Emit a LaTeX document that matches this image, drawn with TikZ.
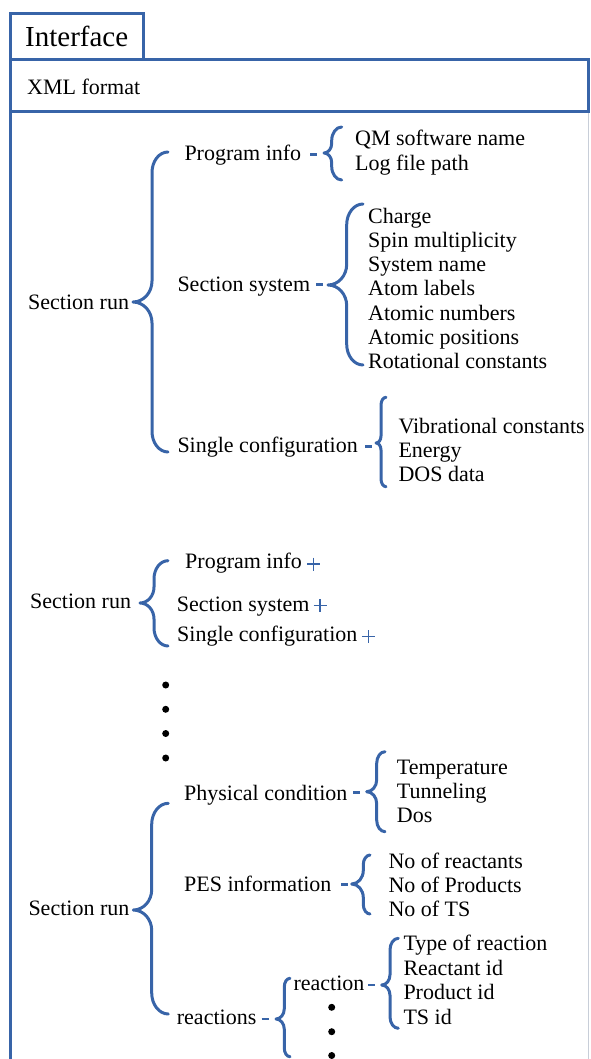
\documentclass[tikz,border=0pt]{standalone}
\usepackage{fontspec}
\setmainfont{Liberation Serif}
\definecolor{ablue}{RGB}{56,100,168}
\definecolor{agray}{RGB}{200,206,216}
\newcommand{\curlyb}[6]{%
 \pgfmathsetmacro{\dA}{#4-#3}%
 \pgfmathsetmacro{\dB}{#3-#1}%
 \pgfmathsetmacro{\rA}{1.15*\dA+2}%
 \pgfmathsetmacro{\rB}{1.0*\dB+2}%
 \draw[bracestyle] (#4,#5) .. controls ({#4-0.552*\dA},#5) and (#3,{#5+0.448*\rA}) .. (#3,{#5+\rA})
   -- (#3,{#2-\rB}) .. controls (#3,{#2-0.448*\rB}) and ({#1+0.552*\dB},#2) .. (#1,#2)
   .. controls ({#1+0.552*\dB},#2) and (#3,{#2+0.448*\rB}) .. (#3,{#2+\rB})
   -- (#3,{#6-\rA}) .. controls (#3,{#6-0.448*\rA}) and ({#4-0.552*\dA},#6) .. (#4,#6);%
}
\begin{document}
\begin{tikzpicture}[x=1pt,y=-1pt,
  bracestyle/.style={draw=ablue,line width=3pt,line cap=round,line join=round},
  frame/.style={draw=ablue,line width=3pt},
  txt/.style={anchor=base west,inner sep=0pt,font=\fontsize{22}{24}\selectfont},
  dashmark/.style={draw=ablue,line width=2.4pt},
  plusmark/.style={draw=ablue,line width=1.5pt},
  dotmark/.style={fill=black}]
\useasboundingbox (0,0) rectangle (590,1059);
% frame
\draw[frame] (10,60) -- (10,14) -- (143,14) -- (143,60);
\draw[frame] (10,60) rectangle (588,112);
\draw[frame] (10,112) -- (10,1062);
\draw[agray,line width=1pt] (588,113.5) -- (588,1059);
\node[anchor=base west,inner sep=0pt,font=\fontsize{29}{31}\selectfont] (interface) at (25,46.7) {Interface};
\node[txt] (xml) at (27,95) {XML format};
% ---------- section 1
\node[txt] (run1) at (28,309) {Section run};
\curlyb{133}{302}{152}{168}{152}{452}
\node[txt] (pinfo1) at (184.3,161) {Program info};
\draw[dashmark] (310,154.5) -- (317,154.5);
\curlyb{324}{153}{331.7}{341.7}{127}{180}
\node[txt] (qm) at (355,146) {QM software name};
\node[txt] (logf) at (355,171) {Log file path};
\node[txt] (sys1) at (177.3,291.7) {Section system};
\draw[dashmark] (316,284.5) -- (323,284.5);
\curlyb{328}{285}{346.7}{363}{204}{365}
\node[txt] (charge) at (368,223.3) {Charge};
\node[txt] (spin) at (368,247.5) {Spin multiplicity};
\node[txt] (sysname) at (368,271.7) {System name};
\node[txt] (atlab) at (368,295.9) {Atom labels};
\node[txt] (atnum) at (368,320.1) {Atomic numbers};
\node[txt] (atpos) at (368,344.3) {Atomic positions};
\node[txt] (rotc) at (368,368.5) {Rotational constants};
\node[txt] (single1) at (177.3,452.5) {Single configuration};
\draw[dashmark] (365,446.5) -- (372,446.5);
\curlyb{376}{443}{381}{386}{397.3}{486.7}
\node[txt] (vib) at (398.3,433.3) {Vibrational constants};
\node[txt] (energy) at (398.3,457.3) {Energy};
\node[txt] (dos) at (398.3,481.3) {DOS data};
% ---------- section 2
\node[txt] (run2) at (30,608.3) {Section run};
\curlyb{140}{603}{154}{168}{560.7}{646}
\node[txt] (pinfo2) at (185,568.3) {Program info};
\draw[plusmark] (307,564) -- (320,564) (313.5,557.5) -- (313.5,570.5);
\node[txt] (sys2) at (176.7,611) {Section system};
\draw[plusmark] (313.5,605.7) -- (326.5,605.7) (320,599.2) -- (320,612.2);
\node[txt] (single2) at (177,641.7) {Single configuration};
\draw[plusmark] (361.8,636.7) -- (374.8,636.7) (368.3,630.2) -- (368.3,643.2);
% dots
\fill[dotmark] (165.7,685) circle (3.5);
\fill[dotmark] (165.7,709.3) circle (3.5);
\fill[dotmark] (165.7,733.5) circle (3.5);
\fill[dotmark] (165.7,758) circle (3.5);
% ---------- section 3
\node[txt] (run3) at (28.3,915) {Section run};
\curlyb{133.3}{910}{151.7}{168.3}{803.3}{1014}
\node[txt] (phys) at (184,800) {Physical condition};
\draw[dashmark] (353,792.5) -- (360,792.5);
\curlyb{366.7}{791.7}{376.7}{385}{751.7}{831.7}
\node[txt] (temp) at (396.7,774) {Temperature};
\node[txt] (tunn) at (396.7,798.4) {Tunneling};
\node[txt] (dos2) at (396.7,822.8) {Dos};
\node[txt] (pes) at (184,891.7) {PES information};
\draw[dashmark] (341,884.5) -- (348,884.5);
\curlyb{351.7}{884}{363.3}{370}{855}{914}
\node[txt] (nreac) at (388.3,868.3) {No of reactants};
\node[txt] (nprod) at (388.3,892.6) {No of Products};
\node[txt] (nts) at (388.3,916.9) {No of TS};
\node[txt] (reactions) at (176.7,1024) {reactions};
\draw[dashmark] (261.5,1019) -- (268.5,1019);
\curlyb{276}{1019}{284.3}{290}{978.3}{1056.7}
\node[txt] (reaction) at (293.3,990) {reaction};
\draw[dashmark] (368,985) -- (375,985);
\curlyb{381.7}{985}{390}{398.3}{938.3}{1028.3}
\node[txt] (type) at (403.3,950.7) {Type of reaction};
\node[txt] (reacid) at (403.3,975.2) {Reactant id};
\node[txt] (prodid) at (403.3,999.7) {Product id};
\node[txt] (tsid) at (403.3,1024.2) {TS id};
\fill[dotmark] (331.7,1007.3) circle (3.5);
\fill[dotmark] (331.7,1031.7) circle (3.5);
\fill[dotmark] (331.7,1055.5) circle (3.5);
\end{tikzpicture}
\end{document}
